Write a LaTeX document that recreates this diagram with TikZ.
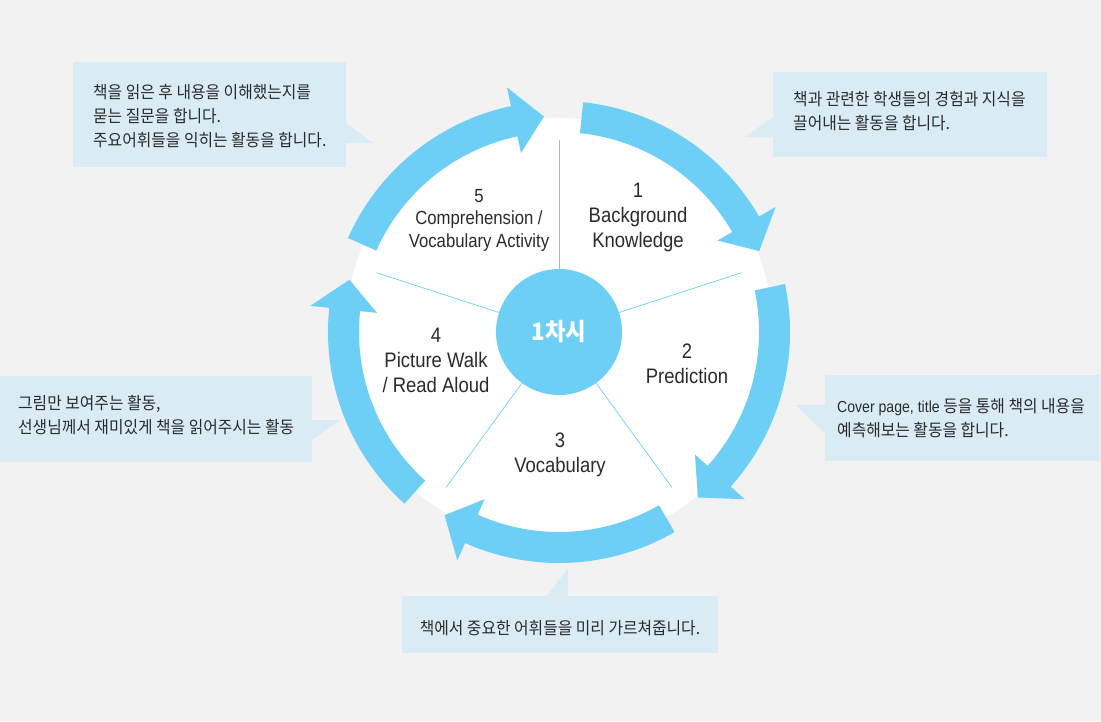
\documentclass[tikz,border=0pt]{standalone}
\usepackage{fontspec}
\setmainfont{Liberation Sans}[FakeStretch=0.88]
\newfontfamily\krfont{Noto Sans CJK KR}[FakeStretch=0.93]
\definecolor{ringblue}{HTML}{6DCFF6}
\definecolor{notefill}{HTML}{D9ECF5}
\definecolor{pagegray}{HTML}{F2F2F2}
\definecolor{inkgray}{HTML}{2B2B2B}

\begin{document}
\begin{tikzpicture}[x=1pt, y=1pt,
    ringarrow/.style={fill=ringblue},
    spoke/.style={draw=ringblue, line width=0.7pt},
    steplabel/.style={align=center, text=inkgray, inner sep=0pt, font=\fontsize{21}{25}\selectfont},
    bubble/.style={fill=notefill},
    note/.style={align=left, text=inkgray, inner sep=0pt, font=\krfont\fontsize{17}{24}\selectfont}]
  \fill[pagegray] (0,0) rectangle (1101,-721);
  % callout boxes
  \fill[bubble] (73,-62) rectangle (346,-167);
  \fill[bubble] (346,-123) -- (373,-143) -- (346,-143) -- cycle;
  \fill[bubble] (773,-72) rectangle (1047,-157);
  \fill[bubble] (773,-117) -- (745,-137) -- (773,-137) -- cycle;
  \fill[bubble] (0,-376) rectangle (312,-462);
  \fill[bubble] (312,-420) -- (340,-420) -- (312,-440) -- cycle;
  \fill[bubble] (825,-375) rectangle (1100,-461);
  \fill[bubble] (825,-405) -- (796,-405) -- (825,-433) -- cycle;
  \fill[bubble] (402,-596) rectangle (718,-653);
  \fill[bubble] (547,-596) -- (568,-568) -- (568,-596) -- cycle;
  \node[note, anchor=west] (note5) at (93,-116) {책을 읽은 후 내용을 이해했는지를\\묻는 질문을 합니다.\\주요어휘들을 익히는 활동을 합니다.};
  \node[note, anchor=west] (note1) at (793,-111) {책과 관련한 학생들의 경험과 지식을\\끌어내는 활동을 합니다.};
  \node[note, anchor=west] (note4) at (18,-415) {그림만 보여주는 활동,\\선생님께서 재미있게 책을 읽어주시는 활동};
  \node[note, anchor=west] (note2) at (837,-418) {{\rmfamily\fontsize{16}{24}\selectfont Cover page, title} 등을 통해 책의 내용을\\예측해보는 활동을 합니다.};
  \node[note] (note3) at (560,-628) {책에서 중요한 어휘들을 미리 가르쳐줍니다.};
  % wheel
  \begin{scope}[shift={(559,-332)}]
    \fill[white] (0,0) circle[radius=214pt];
    \fill[ringarrow] (84:231pt) arc[start angle=84, end angle=30, radius=231pt] -- (30:250pt) -- (22:216pt) -- (30:183pt) -- (30:200pt) arc[start angle=30, end angle=84, radius=200pt] -- cycle;
    \fill[ringarrow] (12:231pt) arc[start angle=12, end angle=-42, radius=231pt] -- (-42:250pt) -- (-50:216pt) -- (-42:183pt) -- (-42:200pt) arc[start angle=-42, end angle=12, radius=200pt] -- cycle;
    \fill[ringarrow] (-60:231pt) arc[start angle=-60, end angle=-114, radius=231pt] -- (-114:250pt) -- (-122:216pt) -- (-114:183pt) -- (-114:200pt) arc[start angle=-114, end angle=-60, radius=200pt] -- cycle;
    \fill[ringarrow] (-132:231pt) arc[start angle=-132, end angle=-186, radius=231pt] -- (-186:250pt) -- (-194:216pt) -- (-186:183pt) -- (-186:200pt) arc[start angle=-186, end angle=-132, radius=200pt] -- cycle;
    \fill[ringarrow] (156:231pt) arc[start angle=156, end angle=102, radius=231pt] -- (102:250pt) -- (94:216pt) -- (102:183pt) -- (102:200pt) arc[start angle=102, end angle=156, radius=200pt] -- cycle;
    \node[circle, fill=ringblue, minimum size=126pt, inner sep=0pt, text=white,
      font=\krfont\bfseries\fontsize{24}{24}\selectfont] (hub) at (0,0) {1차시};
    \foreach \a in {90,18,-54,-126,162}
      \draw[spoke] (hub.\a) -- (\a:192pt);
  \end{scope}
  % step labels
  \node[steplabel] (step1) at (638,-217) {1\\Background\\Knowledge};
  \node[steplabel] (step2) at (687,-364) {2\\Prediction};
  \node[steplabel] (step3) at (560,-455) {3\\Vocabulary};
  \node[steplabel] (step4) at (436,-360) {4\\Picture Walk\\/ Read Aloud};
  \node[steplabel, font=\fontsize{19}{22.5}\selectfont] (step5) at (479,-220) {5\\Comprehension /\\Vocabulary Activity};
\end{tikzpicture}
\end{document}
